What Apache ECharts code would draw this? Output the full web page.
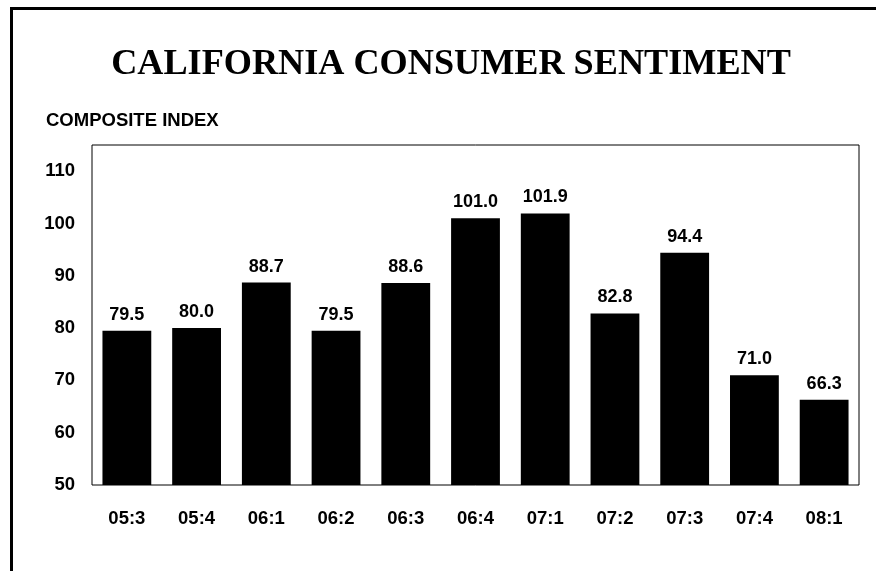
<!DOCTYPE html>
<html>
<head>
<meta charset="utf-8">
<script src="https://cdn.jsdelivr.net/npm/echarts@6/dist/echarts.min.js"></script>
<style>
html,body{margin:0;padding:0;background:#fff;}
#chart{width:876px;height:571px;}
</style>
</head>
<body>
<div id="chart"></div>
<script>
const categories = ['05:3','05:4','06:1','06:2','06:3','06:4','07:1','07:2','07:3','07:4','08:1'];
const values = [79.5, 80.0, 88.7, 79.5, 88.6, 101.0, 101.9, 82.8, 94.4, 71.0, 66.3];
const yTicks = { min: 50, max: 115, interval: 10 };
const titleText = 'CALIFORNIA CONSUMER SENTIMENT';
const yAxisTitle = 'COMPOSITE INDEX';

const sans = '"Liberation Sans", Arial, sans-serif';
const chart = echarts.init(document.getElementById('chart'), null, {renderer: 'canvas'});
chart.setOption({
  backgroundColor: '#fff',
  animation: false,
  title: [{
    text: titleText,
    left: 446, top: 42, textAlign: 'center',
    textStyle: { fontFamily: '"Liberation Serif", "Times New Roman", serif', fontWeight: 'bold', fontSize: 36.2, color: '#000' }
  }, {
    text: yAxisTitle,
    left: 41, top: 106,
    textStyle: { fontFamily: sans, fontWeight: 'bold', fontSize: 18.5, color: '#000' }
  }],
  graphic: [
    { type: 'rect', shape: { x: 10, y: 7, width: 3, height: 564 }, style: { fill: '#000' } },
    { type: 'rect', shape: { x: 10, y: 7, width: 866, height: 3 }, style: { fill: '#000' } }
  ],
  grid: { left: 92, top: 145, width: 767, height: 340, show: true, borderColor: '#000', borderWidth: 1, backgroundColor: 'transparent' },
  xAxis: {
    type: 'category', data: categories,
    axisLine: { show: false }, axisTick: { show: false },
    axisLabel: { fontFamily: sans, fontWeight: 'bold', fontSize: 18.5, color: '#000', margin: 24 }
  },
  yAxis: {
    type: 'value', min: yTicks.min, max: yTicks.max, interval: yTicks.interval,
    splitLine: { show: false }, axisLine: { show: false }, axisTick: { show: false },
    axisLabel: { fontFamily: sans, fontWeight: 'bold', fontSize: 18.5, color: '#000', margin: 17, showMaxLabel: false }
  },
  series: [{
    type: 'bar', data: values, barWidth: '70%',
    itemStyle: { color: '#000' },
    label: { show: true, position: 'top', distance: 7, formatter: p => p.value.toFixed(1),
      fontFamily: sans, fontWeight: 'bold', fontSize: 18, color: '#000' }
  }]
});
</script>
</body>
</html>
